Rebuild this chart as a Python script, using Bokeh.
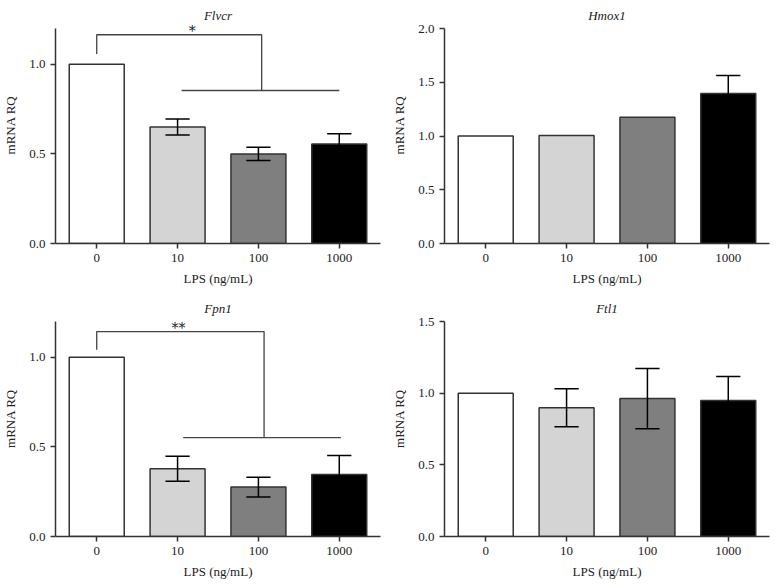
from bokeh.plotting import figure
from bokeh.layouts import gridplot
from bokeh.models import Range1d, FixedTicker, PrintfTickFormatter, Label
from bokeh.embed import file_html
from bokeh.resources import INLINE

# ---------------- data ----------------
doses = ["0", "10", "100", "1000"]
bar_colors = ["#ffffff", "#d4d4d4", "#7f7f7f", "#000000"]

flvcr_mean = [1.0, 0.65, 0.50, 0.555]
flvcr_err = [0.0, 0.045, 0.037, 0.058]

hmox1_mean = [1.0, 1.005, 1.175, 1.395]
hmox1_err = [0.0, 0.0, 0.0, 0.167]

fpn1_mean = [1.0, 0.378, 0.276, 0.346]
fpn1_err = [0.0, 0.07, 0.055, 0.106]

ftl1_mean = [1.0, 0.898, 0.962, 0.949]
ftl1_err = [0.0, 0.133, 0.21, 0.167]

FONT = "Liberation Serif"
AX = "#333333"
AXIS_PX = 215  # pixel height of the drawn y axis


def panel(title, means, errs, ymax, yticks, frame_h, bottom, bracket=None):
    xs = list(range(len(doses)))
    view_max = ymax * frame_h / AXIS_PX
    p = figure(frame_width=325, frame_height=frame_h, x_range=Range1d(-0.51, 3.51),
               y_range=Range1d(0, view_max), output_backend="svg",
               toolbar_location=None, min_border_left=55, min_border_right=9,
               min_border_top=6, min_border_bottom=bottom)
    p.outline_line_color = None
    p.grid.visible = False
    p.background_fill_color = "white"

    # panel title (inside the frame so nothing is clipped)
    p.add_layout(Label(x=1.5, y=ymax * (1 + 13 / AXIS_PX), text=title,
                       text_font=FONT, text_font_style="italic",
                       text_font_size="13px", text_align="center",
                       text_baseline="middle", text_color="#222222"))

    p.vbar(x=xs, top=means, width=0.68, bottom=0, fill_color=bar_colors,
           line_color=AX, line_width=1.5)

    # error bars
    sx, sy0, sy1 = [], [], []
    cx0, cx1, cy = [], [], []
    for x, m, e in zip(xs, means, errs):
        if e <= 0:
            continue
        sx.append(x); sy0.append(m - e); sy1.append(m + e)
        for yy in (m - e, m + e):
            cx0.append(x - 0.15); cx1.append(x + 0.15); cy.append(yy)
    if sx:
        p.segment(x0=sx, y0=sy0, x1=sx, y1=sy1, line_color="#000000", line_width=1.5)
        p.segment(x0=cx0, y0=cy, x1=cx1, y1=cy, line_color="#000000", line_width=1.5)

    if bracket is not None:
        y_start, y_top, x_drop, y_low, x_l, x_r, star, star_x = bracket
        p.line(x=[0, 0, x_drop, x_drop], y=[y_start, y_top, y_top, y_low],
               line_color="#444444", line_width=1.3)
        p.line(x=[x_l, x_r], y=[y_low, y_low], line_color="#444444", line_width=1.3)
        p.add_layout(Label(x=star_x, y=y_top, text=star, text_font="DejaVu Serif",
                           text_font_size="14px", text_align="center",
                           text_baseline="bottom", text_color="#222222",
                           y_offset=-4))

    # axes
    p.xaxis.ticker = FixedTicker(ticks=xs)
    p.xaxis.major_label_overrides = {i: d for i, d in enumerate(doses)}
    p.yaxis.ticker = FixedTicker(ticks=yticks)
    p.yaxis.bounds = (0, ymax)
    p.yaxis.formatter = PrintfTickFormatter(format="%.1f")
    p.xaxis.axis_label = "LPS (ng/mL)"
    p.yaxis.axis_label = "mRNA RQ"
    for ax in (p.xaxis, p.yaxis):
        ax.axis_line_color = AX
        ax.axis_line_width = 1.5
        ax.major_tick_line_color = AX
        ax.major_tick_line_width = 1.5
        ax.major_tick_out = 5
        ax.major_tick_in = 0
        ax.minor_tick_line_color = None
        ax.major_label_text_font = FONT
        ax.major_label_text_font_size = "13px"
        ax.major_label_text_color = "#222222"
        ax.axis_label_text_font = FONT
        ax.axis_label_text_font_size = "13px"
        ax.axis_label_text_font_style = "normal"
        ax.axis_label_text_color = "#222222"
    p.xaxis.axis_label_standoff = 6
    p.yaxis.axis_label_standoff = 8
    return p


p1 = panel("Flvcr", flvcr_mean, flvcr_err, 1.2, [0, 0.5, 1.0], 237, 51,
           bracket=(1.057, 1.165, 2.04, 0.854, 1.05, 3.0, "*", 1.18))
p2 = panel("Hmox1", hmox1_mean, hmox1_err, 2.0, [0, 0.5, 1.0, 1.5, 2.0], 237, 51)
p3 = panel("Fpn1", fpn1_mean, fpn1_err, 1.2, [0, 0.5, 1.0], 236, 52,
           bracket=(1.043, 1.144, 2.07, 0.552, 1.07, 3.02, "**", 1.01))
p4 = panel("Ftl1", ftl1_mean, ftl1_err, 1.5, [0, 0.5, 1.0, 1.5], 236, 52)

grid = gridplot([[p1, p2], [p3, p4]], toolbar_location=None)

open("out.html", "w").write(file_html(grid, INLINE))
